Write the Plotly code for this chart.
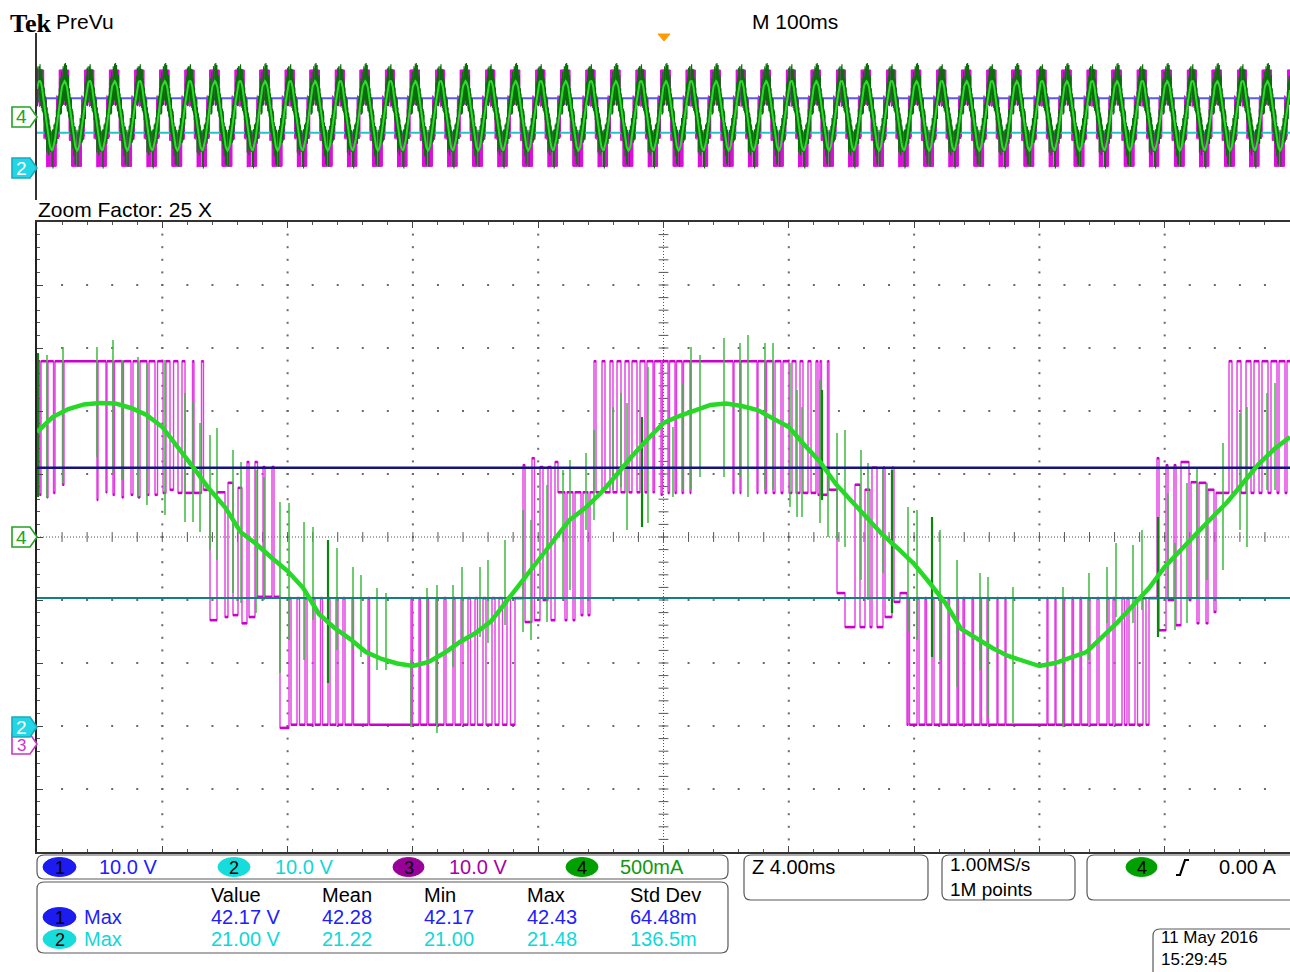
import numpy as np
import plotly.graph_objects as go

W, H = 1290, 972
FONT = "Liberation Sans"

# ---------------- scope settings ----------------
zoom_half_ms = 20.0          # zoom window: 10 div x 4.00 ms
main_half_ms = 500.0         # record window: 10 div x 100 ms
ch1_v_per_div, ch2_v_per_div, ch3_v_per_div = 10.0, 10.0, 10.0
ch4_a_per_div = 0.5
ch1_ref_div, ch2_ref_div, ch3_ref_div, ch4_ref_div = -3.12, -3.03, -3.25, 0.0

# ---------------- data ----------------
ch1_level_v = 42.2
ch2_level_v = 20.6

# CH4 current, sampled every 0.5 ms from -20 ms to +20 ms (A)
ch4_current_a = [0.833, 0.952, 1.016, 1.052, 1.063, 1.060, 1.024, 0.968, 0.873, 0.714,
                 0.548, 0.381, 0.238, 0.040, -0.056, -0.167, -0.270, -0.405, -0.611, -0.722,
                 -0.810, -0.913, -0.968, -1.004, -1.024, -0.992, -0.921, -0.833, -0.762, -0.667,
                 -0.508, -0.349, -0.190, -0.032, 0.135, 0.230, 0.349, 0.492, 0.643, 0.778,
                 0.905, 0.960, 1.008, 1.048, 1.060, 1.040, 1.008, 0.937, 0.873, 0.730,
                 0.595, 0.421, 0.286, 0.143, 0.016, -0.095, -0.214, -0.365, -0.524, -0.730,
                 -0.806, -0.881, -0.944, -0.984, -1.024, -1.000, -0.960, -0.913, -0.794, -0.675,
                 -0.540, -0.405, -0.238, -0.103, 0.024, 0.151, 0.278, 0.429, 0.579, 0.698, 0.794]

# CH4 switching spikes: time (ms), upper and lower extent (A)
spike_t = [-19.681, -19.170, -18.085, -17.574, -17.287, -16.776, -16.489, -15.914, -15.275, -15.020,
           -14.796, -14.477, -14.254, -13.743, -13.487, -13.008, -12.753, -12.243, -11.955, -11.476,
           -11.189, -10.423, -9.912, -9.657, -9.146, -8.859, -8.061, -7.550, -7.231, -6.720,
           -6.433, -5.858, -5.603, -5.060, -4.485, -4.230, -3.719, -3.208, -2.985, -2.474,
           -2.219, -1.612, -1.357, -1.165, -0.495, 0.303, 0.623, 0.878, 1.165, 1.931,
           2.442, 2.697, 3.240, 3.496, 4.038, 4.262, 4.421, 4.996, 5.252, 5.539,
           5.794, 6.305, 6.528, 7.007, 7.805, 8.093, 8.827, 9.370, 10.104, 10.359,
           11.157, 12.753, 13.583, 14.158, 14.445, 14.988, 15.275, 16.105, 16.329, 16.712,
           17.031, 17.350, 17.861, 18.404, 18.627, 19.266, 19.521]
spike_hi = [1.444, 1.508, 1.508, 1.563, 1.405, 1.429, 1.381, 1.405, 1.143, 1.071,
            0.905, 0.810, 0.865, 0.690, 0.595, 0.532, 0.476, 0.278, 0.270, 0.119,
            0.079, -0.087, -0.238, -0.302, -0.405, -0.444, -0.976, -0.405, -0.381, -0.381,
            -0.238, -0.238, -0.183, -0.024, 0.214, 0.135, 0.413, 0.532, 0.611, 0.667,
            0.849, 1.032, 1.143, 1.063, 1.349, 0.873, 1.222, 1.508, 1.444, 1.579,
            1.540, 1.603, 1.540, 1.540, 1.381, 1.167, 1.032, 1.246, 0.508, 0.825,
            0.849, 0.690, 0.587, 0.556, 0.238, 0.214, 0.056, -0.183, -0.286, -0.317,
            -0.397, -0.397, -0.286, -0.238, -0.048, -0.063, 0.056, 0.349, -0.048, 0.429,
            0.548, 0.429, 0.746, 0.984, 1.032, 1.143, 1.222]
spike_lo = [0.310, 0.429, 0.635, 0.508, 0.452, 0.317, 0.254, 0.175, 0.119, 0.119,
            0.040, -0.103, -0.183, -0.444, -0.524, -0.603, -0.500, -1.079, -0.817, -0.976,
            -0.659, -0.897, -0.897, -0.952, -1.056, -1.056, -1.508, -0.952, -1.556, -1.032,
            -0.817, -0.794, -0.841, -0.698, -0.754, -0.817, -0.675, -0.500, -0.421, 0.056,
            0.135, 0.373, 0.397, 0.056, 0.111, 0.317, 0.373, 0.373, 0.476, 0.476,
            0.476, 0.317, 0.373, 0.373, 0.238, 0.159, 0.159, 0.111, 0.000, -0.024,
            -0.079, -0.341, -0.500, -0.286, -0.754, -0.817, -0.976, -1.190, -1.056, -1.429,
            -1.476, -1.508, -0.976, -0.683, -0.635, -0.683, -0.579, -0.476, -0.738, -0.683,
            -0.476, -0.341, -0.262, 0.056, -0.079, 0.373, 0.373]
# darker (overlapping) spikes
dark_spike_t = [-19.968, -10.710, -0.686, 5.060, 7.294, 8.572, 15.786]
dark_spike_hi = [1.460, -0.024, 0.952, 1.167, 0.532, 0.159, 0.159]
dark_spike_lo = [0.317, -1.159, 0.079, 0.294, -0.603, -0.952, -0.794]

# CH3 inverter output: [edge time (ms), level after the edge (V)]
ch3_top_a = [[-20.000, 39.5], [-19.968, 60.4], [-19.920, 39.2], [-19.872, 60.4], [-19.681, 38.8],
             [-19.649, 60.4], [-19.473, 39.5], [-19.425, 60.4], [-19.186, 40.8], [-19.138, 60.4],
             [-18.085, 38.4], [-18.053, 60.4], [-17.798, 39.6], [-17.766, 60.4], [-17.574, 39.2],
             [-17.526, 60.4], [-17.287, 38.8], [-17.239, 60.4], [-16.999, 39.2], [-16.935, 60.4],
             [-16.776, 38.8], [-16.712, 60.4], [-16.489, 39.2], [-16.425, 60.4], [-16.233, 39.2],
             [-16.153, 60.4], [-15.977, 39.5], [-15.882, 60.4], [-15.754, 40.0], [-15.642, 60.4],
             [-15.499, 39.5], [-15.371, 60.4], [-15.275, 39.5], [-15.036, 60.4], [-14.988, 39.5],
             [-14.749, 60.4], [-14.685, 40.0]]
ch3_fall_a = [[-14.477, 19.3], [-14.254, 39.6], [-13.998, 19.8], [-13.903, 41.1], [-13.743, 20.1],
              [-13.583, 40.3], [-13.456, 18.8], [-13.296, 44.4], [-13.232, 19.8], [-13.041, 44.4],
              [-12.961, 23.0], [-12.785, 43.6], [-12.722, 23.0], [-12.498, 43.6], [-12.434, 23.0],
              [-12.243, 2.2]]
ch3_bottom_a = [[-11.955, 22.8], [-11.891, 2.7], [-11.700, 22.8], [-11.620, 2.7], [-11.444, 22.8],
                [-11.380, 2.7], [-11.189, 22.8], [-11.125, 2.7], [-10.950, 22.8], [-10.886, 2.7],
                [-10.710, 22.8], [-10.646, 2.7], [-10.455, 22.8], [-10.391, 2.7], [-10.232, 22.8],
                [-10.168, 2.7], [-9.944, 22.8], [-9.896, 2.7], [-9.433, 22.8], [-9.385, 2.7],
                [-8.061, 22.8], [-8.013, 2.7], [-7.806, 22.8], [-7.758, 2.7], [-7.550, 22.8],
                [-7.502, 2.7], [-7.263, 22.8], [-7.215, 2.7], [-7.007, 22.8], [-6.944, 2.7],
                [-6.720, 22.8], [-6.656, 2.7], [-6.465, 22.8], [-6.401, 2.7], [-6.241, 22.8],
                [-6.161, 2.7], [-6.018, 22.8], [-5.938, 2.7], [-5.762, 22.8], [-5.667, 2.7],
                [-5.475, 22.8], [-5.379, 2.7], [-5.251, 22.8], [-5.139, 2.7], [-4.996, 22.8],
                [-4.884, 2.7], [-4.741, 22.8]]
ch3_rise_a = [[-4.485, 43.9], [-4.421, 19.0], [-4.198, 45.0], [-4.118, 19.3], [-3.943, 43.6],
              [-3.847, 22.5], [-3.687, 43.6], [-3.591, 19.3], [-3.464, 44.4], [-3.368, 39.6],
              [-3.145, 19.3], [-3.081, 39.6], [-2.889, 19.3], [-2.825, 39.6], [-2.634, 20.1],
              [-2.570, 39.6], [-2.410, 20.1], [-2.346, 39.6]]
ch3_top_b = [[-2.219, 60.4], [-2.155, 39.6], [-1.963, 60.4], [-1.868, 39.6], [-1.708, 60.4],
             [-1.612, 39.6], [-1.484, 60.4], [-1.357, 39.6], [-1.229, 60.4], [-1.101, 39.6],
             [-1.006, 60.4], [-0.846, 39.6], [-0.750, 60.4], [-0.591, 39.6], [-0.527, 60.4],
             [-0.335, 39.6], [-0.287, 60.4], [-0.080, 39.2], [-0.032, 60.4],
             [0.144, 39.5], [0.192, 60.4], [0.367, 39.5], [0.415, 60.4], [0.591, 39.5],
             [0.638, 60.4], [0.846, 39.5], [0.878, 60.4], [2.219, 39.5], [2.251, 60.4],
             [2.442, 39.5], [2.474, 60.4], [2.985, 39.5], [3.017, 60.4], [3.240, 39.5],
             [3.288, 60.4], [3.496, 39.5], [3.560, 60.4], [3.751, 39.5], [3.815, 60.4],
             [4.006, 39.5], [4.102, 60.4], [4.230, 39.5], [4.358, 60.4], [4.453, 39.5],
             [4.613, 60.4], [4.709, 39.5], [4.868, 60.4], [4.932, 39.2], [4.996, 60.4],
             [5.044, 39.2], [5.235, 60.4], [5.283, 40.0]]
ch3_fall_b = [[5.539, 23.6], [5.794, 18.2], [6.113, 40.8], [6.273, 18.2], [6.433, 40.0],
              [6.592, 18.2], [6.656, 43.5], [6.816, 18.2], [7.007, 43.5], [7.071, 19.8],
              [7.294, 43.5], [7.358, 22.2], [7.550, 23.6], [7.773, 2.7]]
ch3_bottom_b = [[7.805, 22.8], [7.853, 2.7], [8.093, 22.8], [8.157, 2.7], [8.348, 22.8],
                [8.396, 2.7], [8.572, 22.8], [8.636, 2.7], [8.827, 22.8], [8.875, 2.7],
                [9.082, 22.8], [9.130, 2.7], [9.370, 22.8], [9.417, 2.7], [9.561, 22.8],
                [9.609, 2.7], [9.849, 22.8], [9.896, 2.7], [10.104, 22.8], [10.152, 2.7],
                [10.327, 22.8], [10.375, 2.7], [10.646, 22.8], [10.678, 2.7], [10.902, 22.8],
                [10.934, 2.7], [12.242, 22.8], [12.274, 2.7], [12.498, 22.8], [12.530, 2.7],
                [12.753, 22.8], [12.801, 2.7], [13.041, 22.8], [13.088, 2.7], [13.296, 22.8],
                [13.344, 2.7], [13.551, 22.8], [13.615, 2.7], [13.839, 22.8], [13.903, 2.7],
                [14.158, 22.8], [14.222, 2.7], [14.350, 22.8], [14.413, 2.7], [14.637, 22.8],
                [14.717, 2.7], [14.796, 22.8], [14.860, 2.7], [15.052, 22.8], [15.132, 2.7],
                [15.307, 22.8], [15.403, 2.7], [15.499, 22.8]]
ch3_rise_b = [[15.754, 45.0], [15.818, 17.7], [16.041, 43.9], [16.105, 22.5], [16.297, 43.9],
              [16.361, 18.5], [16.520, 44.4], [16.776, 22.5], [16.840, 41.2], [17.031, 18.8],
              [17.095, 41.1], [17.319, 18.8], [17.382, 40.0], [17.574, 20.6], [17.638, 39.5]]
ch3_top_c = [[18.053, 60.4], [18.149, 39.5], [18.309, 60.4], [18.436, 39.5], [18.596, 60.4],
             [18.755, 39.5], [18.851, 60.4], [19.011, 39.5], [19.106, 60.4], [19.298, 39.5],
             [19.393, 60.4], [19.585, 39.5], [19.649, 60.4], [19.840, 39.5], [19.904, 60.4]]

# measurement table
meas_headers = ["Value", "Mean", "Min", "Max", "Std Dev"]
meas_ch1 = ["42.17 V", "42.28", "42.17", "42.43", "64.48m"]
meas_ch2 = ["21.00 V", "21.22", "21.00", "21.48", "136.5m"]
scale_labels = ["10.0 V", "10.0 V", "10.0 V", "500mA"]

# ---------------- helpers ----------------
def dv(v, per, ref):
    return np.asarray(v, float) / per + ref

ch3 = np.array(ch3_top_a + ch3_fall_a + ch3_bottom_a + ch3_rise_a + ch3_top_b +
               ch3_fall_b + ch3_bottom_b + ch3_rise_b + ch3_top_c, float)
e_t = np.append(ch3[:, 0], zoom_half_ms)
e_d = dv(np.append(ch3[:, 1], ch3[-1, 1]), ch3_v_per_div, ch3_ref_div)
t4 = np.linspace(-zoom_half_ms, zoom_half_ms, len(ch4_current_a))
d4 = dv(ch4_current_a, ch4_a_per_div, ch4_ref_div)


def segs(ts, his, los, per, ref, off=0.0):
    xs, ys = [], []
    for t, a, b in zip(ts, his, los):
        xs += [t + off, t + off, None]
        ys += [a / per + ref, b / per + ref, None]
    return xs, ys


def flats(t, d):
    xs, ys = [], []
    for i in range(len(t) - 1):
        xs += [t[i], t[i + 1], None]
        ys += [d[i], d[i], None]
    return xs, ys


fig = go.Figure()
MX, MY = dict(xaxis="x", yaxis="y"), dict(xaxis="x2", yaxis="y2")

# ---- main grid dots ----
gx, gy = [], []
for xv in np.arange(-16, 17, 4):
    if abs(xv) < 1e-9:
        continue
    for yv in np.arange(-4.8, 4.9, 0.2):
        gx.append(xv); gy.append(yv)
for yv in np.arange(-4, 5, 1):
    if abs(yv) < 1e-9:
        continue
    for xv in np.arange(-19.2, 19.3, 0.8):
        gx.append(xv); gy.append(yv)
fig.add_trace(go.Scatter(x=gx, y=gy, mode="markers", **MX,
                         marker=dict(symbol="square", size=2, color="#6a6a6a"), hoverinfo="skip"))
# centre cross ticks
cy = np.arange(-4.8, 4.9, 0.2)
fig.add_trace(go.Scatter(x=np.zeros(len(cy)), y=cy, mode="markers", **MX,
                         marker=dict(symbol="line-ew", size=7, line=dict(width=1, color="#555")),
                         hoverinfo="skip"))
cx = np.arange(-19.2, 19.3, 0.8)
fig.add_trace(go.Scatter(x=cx, y=np.zeros(len(cx)), mode="markers", **MX,
                         marker=dict(symbol="line-ns", size=7, line=dict(width=1, color="#555")),
                         hoverinfo="skip"))

# ---- overview traces (record = zoom data repeated over 1 s) ----
offs = [k * 2 * zoom_half_ms for k in range(-12, 13)]
ox, oy = [], []
for o in offs:
    ox += list(e_t + o); oy += list(e_d)
fig.add_trace(go.Scatter(x=ox, y=oy, mode="lines", line=dict(color="#dd11dd", width=1, shape="hv"),
                         **MY, hoverinfo="skip"))
for lvl, per, ref, col in [(ch1_level_v, ch1_v_per_div, ch1_ref_div, "#5858ff"),
                           (ch2_level_v, ch2_v_per_div, ch2_ref_div, "#22c4c8")]:
    fig.add_trace(go.Scatter(x=[-main_half_ms, main_half_ms], y=[lvl / per + ref] * 2, mode="lines",
                             line=dict(color=col, width=2), **MY, hoverinfo="skip"))
sx, sy = [], []
for o in offs:
    a, b = segs(spike_t + dark_spike_t, spike_hi + dark_spike_hi, spike_lo + dark_spike_lo,
                ch4_a_per_div, ch4_ref_div, o)
    sx += a; sy += b
fig.add_trace(go.Scatter(x=sx, y=sy, mode="lines", line=dict(color="#0b6e0b", width=1.2),
                         **MY, hoverinfo="skip"))
gx2, gy2 = [], []
for o in offs:
    gx2 += list(t4 + o); gy2 += list(d4)
fig.add_trace(go.Scatter(x=gx2, y=gy2, mode="lines", line=dict(color="#2bdc2b", width=2),
                         **MY, hoverinfo="skip"))

# ---- main (zoom) traces ----
fig.add_trace(go.Scatter(x=e_t, y=e_d, mode="lines", line=dict(color="#e23ce2", width=1.4, shape="hv"),
                         **MX, hoverinfo="skip"))
fx, fy = flats(e_t, e_d)
fig.add_trace(go.Scatter(x=fx, y=fy, mode="lines", line=dict(color="#cc00cc", width=2.6),
                         **MX, hoverinfo="skip"))
a, b = segs(spike_t, spike_hi, spike_lo, ch4_a_per_div, ch4_ref_div)
fig.add_trace(go.Scatter(x=a, y=b, mode="lines", line=dict(color="#3dba3d", width=1.5),
                         **MX, hoverinfo="skip"))
a, b = segs(dark_spike_t, dark_spike_hi, dark_spike_lo, ch4_a_per_div, ch4_ref_div)
fig.add_trace(go.Scatter(x=a, y=b, mode="lines", line=dict(color="#0a860a", width=2.2),
                         **MX, hoverinfo="skip"))
fig.add_trace(go.Scatter(x=[-zoom_half_ms, zoom_half_ms], y=[ch1_level_v / ch1_v_per_div + ch1_ref_div] * 2,
                         mode="lines", line=dict(color="#14147c", width=2.4), **MX, hoverinfo="skip"))
fig.add_trace(go.Scatter(x=[-zoom_half_ms, zoom_half_ms], y=[ch2_level_v / ch2_v_per_div + ch2_ref_div] * 2,
                         mode="lines", line=dict(color="#12807f", width=2), **MX, hoverinfo="skip"))
fig.add_trace(go.Scatter(x=t4, y=d4, mode="lines", line=dict(color="#27d927", width=4.5),
                         **MX, hoverinfo="skip"))

# ---------------- layout ----------------
xdom = [37 / W, 1.0]
fig.update_layout(
    width=W, height=H, margin=dict(l=0, r=0, t=0, b=0),
    paper_bgcolor="white", plot_bgcolor="white", showlegend=False, hovermode=False,
    xaxis=dict(domain=xdom, range=[-zoom_half_ms, zoom_half_ms], showgrid=False, zeroline=False,
               showline=True, mirror="ticks", linecolor="#444", linewidth=1.3,
               ticks="inside", tick0=-20, dtick=4, ticklen=6, tickcolor="#444", showticklabels=False,
               minor=dict(ticks="inside", tick0=-20, dtick=0.8, ticklen=3, tickcolor="#555")),
    yaxis=dict(domain=[1 - 852 / H, 1 - 222 / H], range=[-5, 5], showgrid=False, zeroline=False,
               showline=True, linecolor="#222", linewidth=2,
               ticks="inside", tick0=0, dtick=1, ticklen=6, tickcolor="#444", showticklabels=False,
               minor=dict(ticks="inside", dtick=0.2, ticklen=3, tickcolor="#555")),
    xaxis2=dict(domain=xdom, range=[-main_half_ms, main_half_ms], showgrid=False, zeroline=False,
                showline=True, mirror=True, linecolor="#333", linewidth=1.5, showticklabels=False,
                ticks=""),
    yaxis2=dict(domain=[1 - 200 / H, 1 - 33 / H], range=[-5, 5], showgrid=False, zeroline=False,
                showline=True, linecolor="#333", linewidth=1.5, showticklabels=False, ticks=""),
)

shapes = []
# centre dotted cross
shapes.append(dict(type="line", xref="x", yref="y", x0=0, x1=0, y0=-5, y1=5, layer="below",
                   line=dict(color="#555", width=1, dash="1px,2px")))
shapes.append(dict(type="line", xref="x", yref="y", x0=-20, x1=20, y0=0, y1=0, layer="below",
                   line=dict(color="#555", width=1, dash="1px,2px")))


def P(x, y):
    return f"{x / W:.5f},{1 - y / H:.5f}"


def poly(pts):
    return "M " + " L ".join(P(x, y) for x, y in pts) + " Z"


def rbox(x0, y0, x1, y1, r=7):
    return (f"M {P(x0 + r, y0)} L {P(x1 - r, y0)} Q {P(x1, y0)} {P(x1, y0 + r)} "
            f"L {P(x1, y1 - r)} Q {P(x1, y1)} {P(x1 - r, y1)} L {P(x0 + r, y1)} "
            f"Q {P(x0, y1)} {P(x0, y1 - r)} L {P(x0, y0 + r)} Q {P(x0, y0)} {P(x0 + r, y0)} Z")


for bx in [(37, 855, 728, 879), (37, 882, 728, 953), (744, 855, 928, 900), (942, 855, 1075, 900),
           (1087, 855, 1300, 900), (1153, 929, 1300, 985)]:
    shapes.append(dict(type="path", xref="paper", yref="paper", path=rbox(*bx),
                       line=dict(color="#5a5a5a", width=1.2), fillcolor="rgba(0,0,0,0)"))

# trigger position marker
shapes.append(dict(type="path", xref="paper", yref="paper", path=poly([(658, 34), (670, 34), (664, 41)]),
                   fillcolor="#ff9a00", line=dict(color="#ff9a00", width=1)))
# edge symbol
shapes.append(dict(type="path", xref="paper", yref="paper",
                   path=f"M {P(1176, 875)} L {P(1180, 875)} L {P(1185, 860)} L {P(1189, 860)}",
                   line=dict(color="black", width=2.2)))


def tag(y, fill, edge):
    return dict(type="path", xref="paper", yref="paper",
                path=poly([(12, y - 10), (30, y - 10), (37, y), (30, y + 10), (12, y + 10)]),
                fillcolor=fill, line=dict(color=edge, width=1.6))


shapes += [tag(117, "white", "#22a322"), tag(168, "#22d6e6", "#1aaabb"),
           tag(537, "white", "#22a322"), tag(744, "white", "#cc33cc"), tag(727, "#22d6e6", "#1aaabb")]

ann = []


def txt(s, x, y, size=20, color="black", xa="left", family=FONT, align="left"):
    ann.append(dict(text=s, x=x / W, y=1 - y / H, xref="paper", yref="paper", xanchor=xa,
                    yanchor="middle", showarrow=False, align=align,
                    font=dict(family=family, size=size, color=color)))


def pill(x0, x1, yc, fill, label):
    shapes.append(dict(type="circle", xref="paper", yref="paper", x0=x0 / W, x1=x1 / W,
                       y0=1 - (yc + 9.5) / H, y1=1 - (yc - 9.5) / H, fillcolor=fill,
                       line=dict(color=fill, width=1)))
    txt(label, (x0 + x1) / 2, yc + 1, 18, "black", "center")


txt("<b>Tek</b>", 8, 23, 26, "black", family="Liberation Serif")
txt("PreVu", 54, 22, 21)
txt("M 100ms", 750, 22, 21)
txt("Zoom Factor: 25 X", 36, 210, 21)

# reference tags text
txt("4", 21, 117, 19, "#22a322", "center")
txt("2", 21, 168, 19, "white", "center")
txt("4", 21, 537, 19, "#22a322", "center")
txt("3", 21, 745, 17, "#cc33cc", "center")
txt("2", 21, 727, 19, "white", "center")

# channel scale bar
cols = ["#2020ff", "#10d8d8", "#a600a6", "#119911"]
fills = ["#1c1cf0", "#16dcdc", "#990099", "#00a000"]
pill_x = [(43, 76), (218, 250), (393, 424), (566, 598)]
lab_x = [97, 273, 447, 618]
for i in range(4):
    pill(pill_x[i][0], pill_x[i][1], 867, fills[i], str(i + 1))
    txt(scale_labels[i], lab_x[i], 867, 20, cols[i])

# measurements
col_x = [209, 320, 422, 525, 628]
for j, h in enumerate(meas_headers):
    txt(h, col_x[j], 895, 20)
pill(43, 76, 917, fills[0], "1")
txt("Max", 82, 917, 20, cols[0])
pill(43, 76, 939, fills[1], "2")
txt("Max", 82, 939, 20, cols[1])
for j in range(5):
    txt(meas_ch1[j], col_x[j], 917, 20, cols[0])
    txt(meas_ch2[j], col_x[j], 939, 20, cols[1])

txt("Z 4.00ms", 750, 867, 20)
txt("1.00MS/s<br>1M points", 948, 877, 19)
pill(1126, 1157, 867, fills[3], "4")
txt("0.00 A", 1217, 867, 20)
txt("11 May 2016<br>15:29:45", 1159, 948, 17)

fig.update_layout(shapes=shapes, annotations=ann)
fig.write_html("out.html", config={"displayModeBar": False},
               post_script="document.body.style.margin='0';")
